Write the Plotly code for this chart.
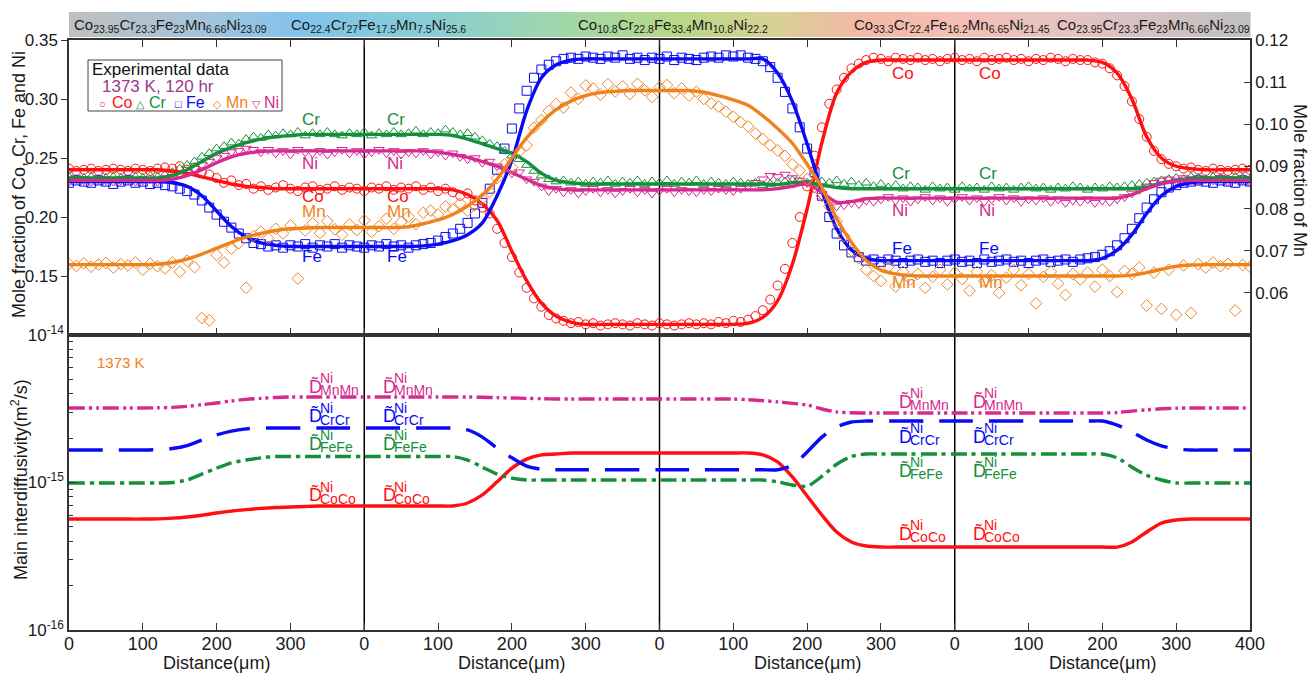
import plotly.graph_objects as go

# ---------------- DATA ----------------
D_SCAT = list(range(0, 1601, 10))      # distance of measured points (um, continuous across 4 couples)
D_FIT = list(range(0, 1601, 20))       # distance of fitted/calculated curves

X_TICKS = list(range(0, 1601, 100))
X_TICKTEXT = ['0', '100', '200', '300', '0', '100', '200', '300', '0', '100', '200', '300',
              '0', '100', '200', '300', '400']
SEG_BOUNDS = [400, 800, 1200]
SEG_CENTERS = [200, 600, 1000, 1400]

CO_PTS = [0.241, 0.239, 0.240, 0.241, 0.239, 0.240, 0.241, 0.240, 0.239, 0.241,
          0.240, 0.239, 0.241, 0.242, 0.241, 0.243, 0.240, 0.242, 0.238, 0.236,
          0.233, 0.229, 0.231, 0.227, 0.228, 0.224, 0.226, 0.223, 0.225, 0.227,
          0.224, 0.222, 0.225, 0.226, 0.223, 0.224, 0.226, 0.223, 0.225, 0.224,
          0.222, 0.225, 0.224, 0.226, 0.223, 0.225, 0.224, 0.226, 0.223, 0.225,
          0.222, 0.224, 0.221, 0.218, 0.220, 0.214, 0.208, 0.203, 0.190, 0.178,
          0.166, 0.153, 0.140, 0.131, 0.124, 0.117, 0.114, 0.112, 0.110, 0.111,
          0.109, 0.110, 0.108, 0.109, 0.110, 0.109, 0.108, 0.110, 0.109, 0.108,
          0.110, 0.109, 0.108, 0.109, 0.110, 0.109, 0.110, 0.109, 0.111, 0.110,
          0.112, 0.111, 0.113, 0.116, 0.121, 0.130, 0.142, 0.156, 0.178, 0.200,
          0.226, 0.252, 0.276, 0.296, 0.308, 0.318, 0.326, 0.330, 0.333, 0.335,
          0.334, 0.332, 0.335, 0.334, 0.333, 0.335, 0.333, 0.334, 0.332, 0.334,
          0.335, 0.333, 0.334, 0.332, 0.335, 0.333, 0.334, 0.335, 0.333, 0.334,
          0.332, 0.334, 0.333, 0.335, 0.334, 0.332, 0.334, 0.333, 0.333, 0.331,
          0.330, 0.326, 0.320, 0.311, 0.298, 0.283, 0.268, 0.256, 0.249, 0.245,
          0.243, 0.241, 0.242, 0.240, 0.239, 0.241, 0.240, 0.239, 0.240, 0.241,
          0.240]
CR_PTS = [0.234, 0.232, 0.233, 0.234, 0.232, 0.233, 0.234, 0.233, 0.232, 0.234,
          0.233, 0.235, 0.234, 0.236, 0.238, 0.241, 0.244, 0.247, 0.251, 0.254,
          0.258, 0.260, 0.263, 0.262, 0.266, 0.268, 0.267, 0.270, 0.269, 0.271,
          0.270, 0.272, 0.269, 0.271, 0.270, 0.272, 0.270, 0.269, 0.271, 0.270,
          0.272, 0.269, 0.271, 0.270, 0.272, 0.270, 0.271, 0.273, 0.270, 0.272,
          0.271, 0.274, 0.272, 0.270, 0.271, 0.268, 0.265, 0.262, 0.260, 0.256,
          0.252, 0.249, 0.244, 0.239, 0.235, 0.232, 0.230, 0.231, 0.229, 0.230,
          0.228, 0.230, 0.229, 0.231, 0.228, 0.230, 0.229, 0.231, 0.228, 0.230,
          0.229, 0.231, 0.228, 0.230, 0.229, 0.231, 0.228, 0.230, 0.229, 0.228,
          0.230, 0.229, 0.228, 0.229, 0.227, 0.228, 0.229, 0.230, 0.231, 0.230,
          0.229, 0.231, 0.230, 0.229, 0.231, 0.228, 0.230, 0.227, 0.229, 0.226,
          0.228, 0.225, 0.227, 0.224, 0.226, 0.225, 0.223, 0.226, 0.224, 0.225,
          0.223, 0.226, 0.224, 0.225, 0.223, 0.226, 0.224, 0.225, 0.223, 0.225,
          0.226, 0.224, 0.225, 0.223, 0.225, 0.224, 0.226, 0.225, 0.223, 0.225,
          0.224, 0.226, 0.225, 0.226, 0.227, 0.228, 0.229, 0.230, 0.231, 0.232,
          0.233, 0.232, 0.234, 0.233, 0.232, 0.234, 0.233, 0.232, 0.234, 0.233,
          0.232]
FE_PTS = [0.229, 0.231, 0.230, 0.229, 0.231, 0.230, 0.228, 0.230, 0.231, 0.229,
          0.230, 0.228, 0.229, 0.227, 0.226, 0.224, 0.222, 0.219, 0.214, 0.208,
          0.202, 0.196, 0.191, 0.186, 0.182, 0.178, 0.177, 0.175, 0.176, 0.174,
          0.176, 0.175, 0.177, 0.174, 0.176, 0.175, 0.177, 0.174, 0.176, 0.175,
          0.174, 0.176, 0.175, 0.177, 0.175, 0.176, 0.174, 0.176, 0.177, 0.178,
          0.180, 0.183, 0.186, 0.190, 0.195, 0.203, 0.212, 0.224, 0.240, 0.258,
          0.275, 0.292, 0.307, 0.318, 0.325, 0.329, 0.332, 0.334, 0.335, 0.334,
          0.336, 0.335, 0.334, 0.336, 0.335, 0.337, 0.334, 0.335, 0.333, 0.335,
          0.334, 0.336, 0.333, 0.335, 0.334, 0.333, 0.335, 0.336, 0.335, 0.337,
          0.336, 0.337, 0.335, 0.334, 0.332, 0.327, 0.318, 0.306, 0.292, 0.276,
          0.258, 0.238, 0.218, 0.200, 0.186, 0.176, 0.170, 0.166, 0.163, 0.164,
          0.162, 0.164, 0.163, 0.161, 0.163, 0.164, 0.162, 0.163, 0.161, 0.163,
          0.164, 0.162, 0.163, 0.161, 0.164, 0.162, 0.163, 0.164, 0.162, 0.163,
          0.161, 0.163, 0.164, 0.162, 0.163, 0.164, 0.162, 0.164, 0.165, 0.166,
          0.168, 0.171, 0.176, 0.182, 0.190, 0.199, 0.208, 0.215, 0.221, 0.225,
          0.227, 0.229, 0.230, 0.231, 0.230, 0.229, 0.231, 0.230, 0.229, 0.231,
          0.230]
NI_PTS = [0.230, 0.232, 0.231, 0.230, 0.232, 0.231, 0.230, 0.231, 0.232, 0.230,
          0.231, 0.232, 0.230, 0.233, 0.234, 0.236, 0.238, 0.241, 0.244, 0.247,
          0.250, 0.252, 0.255, 0.256, 0.258, 0.257, 0.255, 0.257, 0.254, 0.256,
          0.253, 0.257, 0.255, 0.254, 0.256, 0.253, 0.255, 0.257, 0.254, 0.256,
          0.253, 0.255, 0.257, 0.254, 0.256, 0.253, 0.255, 0.254, 0.256, 0.253,
          0.255, 0.252, 0.254, 0.251, 0.249, 0.250, 0.246, 0.247, 0.243, 0.241,
          0.237, 0.238, 0.232, 0.230, 0.226, 0.222, 0.224, 0.221, 0.223, 0.220,
          0.222, 0.224, 0.221, 0.223, 0.220, 0.222, 0.224, 0.221, 0.223, 0.220,
          0.222, 0.224, 0.221, 0.223, 0.222, 0.221, 0.223, 0.222, 0.224, 0.223,
          0.222, 0.224, 0.226, 0.229, 0.232, 0.235, 0.234, 0.236, 0.233, 0.231,
          0.229, 0.224, 0.218, 0.213, 0.209, 0.210, 0.212, 0.211, 0.214, 0.213,
          0.215, 0.217, 0.214, 0.216, 0.213, 0.215, 0.217, 0.214, 0.216, 0.213,
          0.215, 0.217, 0.214, 0.216, 0.213, 0.215, 0.217, 0.214, 0.216, 0.213,
          0.215, 0.214, 0.216, 0.213, 0.215, 0.212, 0.214, 0.213, 0.215, 0.212,
          0.214, 0.213, 0.215, 0.217, 0.220, 0.223, 0.226, 0.229, 0.231, 0.232,
          0.231, 0.233, 0.232, 0.230, 0.232, 0.231, 0.233, 0.230, 0.232, 0.231,
          0.230]
MN_PTS = [0.0668, 0.0664, 0.0670, 0.0662, 0.0667, 0.0671, 0.0660, 0.0668, 0.0665, 0.0672,
          0.0655, 0.0669, 0.0663, 0.0658, 0.0672, 0.0650, 0.0676, 0.0661, 0.0540, 0.0535,
          0.0690, 0.0672, 0.0705, 0.0718, 0.0612, 0.0735, 0.0745, 0.0729, 0.0752, 0.0741,
          0.0760, 0.0634, 0.0748, 0.0765, 0.0742, 0.0770, 0.0751, 0.0738, 0.0762, 0.0749,
          0.0772, 0.0745, 0.0758, 0.0776, 0.0752, 0.0768, 0.0781, 0.0763, 0.0790, 0.0795,
          0.0786, 0.0805, 0.0798, 0.0812, 0.0795, 0.0808, 0.0824, 0.0840, 0.0872, 0.0905,
          0.0898, 0.0936, 0.0950, 0.0992, 0.1010, 0.1032, 0.1048, 0.1040, 0.1075, 0.1060,
          0.1092, 0.1085, 0.1070, 0.1095, 0.1078, 0.1090, 0.1072, 0.1096, 0.1081, 0.1065,
          0.1088, 0.1093, 0.1074, 0.1085, 0.1068, 0.1077, 0.1060, 0.1050, 0.1042, 0.1030,
          0.1018, 0.1005, 0.0995, 0.0978, 0.0965, 0.0950, 0.0938, 0.0925, 0.0905, 0.0890,
          0.0870, 0.0858, 0.0830, 0.0805, 0.0770, 0.0735, 0.0700, 0.0682, 0.0655, 0.0640,
          0.0628, 0.0662, 0.0615, 0.0650, 0.0632, 0.0645, 0.0612, 0.0638, 0.0655, 0.0620,
          0.0648, 0.0633, 0.0605, 0.0650, 0.0628, 0.0642, 0.0600, 0.0636, 0.0655, 0.0618,
          0.0645, 0.0575, 0.0638, 0.0650, 0.0622, 0.0595, 0.0645, 0.0632, 0.0648, 0.0615,
          0.0655, 0.0640, 0.0602, 0.0652, 0.0645, 0.0660, 0.0570, 0.0648, 0.0562, 0.0655,
          0.0548, 0.0665, 0.0552, 0.0668, 0.0660, 0.0672, 0.0663, 0.0669, 0.0558, 0.0666,
          0.0662]

CO_FIT = [0.240, 0.240, 0.240, 0.240, 0.240, 0.240, 0.240, 0.239, 0.237, 0.234,
          0.231, 0.228, 0.226, 0.225, 0.224, 0.224, 0.224, 0.224, 0.224, 0.224,
          0.224, 0.224, 0.224, 0.224, 0.224, 0.224, 0.223, 0.219, 0.211, 0.197,
          0.171, 0.146, 0.127, 0.116, 0.111, 0.109, 0.109, 0.109, 0.109, 0.109,
          0.109, 0.109, 0.109, 0.109, 0.109, 0.109, 0.110, 0.115, 0.129, 0.160,
          0.207, 0.263, 0.305, 0.323, 0.331, 0.333, 0.333, 0.333, 0.333, 0.333,
          0.333, 0.333, 0.333, 0.333, 0.333, 0.333, 0.333, 0.333, 0.333, 0.333,
          0.331, 0.322, 0.300, 0.268, 0.250, 0.243, 0.241, 0.240, 0.240, 0.240,
          0.240]
CR_FIT = [0.233, 0.233, 0.233, 0.233, 0.233, 0.233, 0.233, 0.235, 0.240, 0.247,
          0.254, 0.259, 0.263, 0.266, 0.268, 0.269, 0.270, 0.270, 0.270, 0.270,
          0.270, 0.270, 0.270, 0.270, 0.270, 0.270, 0.269, 0.266, 0.262, 0.258,
          0.254, 0.247, 0.237, 0.231, 0.229, 0.228, 0.228, 0.228, 0.228, 0.228,
          0.228, 0.228, 0.228, 0.228, 0.228, 0.228, 0.228, 0.228, 0.2275, 0.229,
          0.229, 0.227, 0.225, 0.224, 0.224, 0.224, 0.224, 0.224, 0.224, 0.224,
          0.224, 0.224, 0.224, 0.224, 0.224, 0.224, 0.224, 0.224, 0.224, 0.224,
          0.224, 0.224, 0.224, 0.225, 0.229, 0.231, 0.2325, 0.233, 0.233, 0.233,
          0.233]
FE_FIT = [0.230, 0.230, 0.230, 0.230, 0.230, 0.230, 0.230, 0.229, 0.226, 0.218,
          0.205, 0.192, 0.183, 0.178, 0.176, 0.175, 0.175, 0.175, 0.175, 0.175,
          0.175, 0.175, 0.175, 0.175, 0.1755, 0.177, 0.180, 0.185, 0.195, 0.218,
          0.248, 0.290, 0.318, 0.329, 0.333, 0.334, 0.334, 0.334, 0.334, 0.334,
          0.334, 0.334, 0.334, 0.334, 0.334, 0.334, 0.334, 0.334, 0.322, 0.298,
          0.262, 0.222, 0.190, 0.172, 0.165, 0.163, 0.163, 0.163, 0.163, 0.163,
          0.163, 0.163, 0.163, 0.163, 0.163, 0.163, 0.163, 0.163, 0.163, 0.163,
          0.165, 0.172, 0.185, 0.203, 0.218, 0.226, 0.229, 0.230, 0.230, 0.230,
          0.230]
NI_FIT = [0.231, 0.231, 0.231, 0.231, 0.231, 0.231, 0.231, 0.232, 0.235, 0.240,
          0.246, 0.251, 0.254, 0.2555, 0.256, 0.256, 0.256, 0.256, 0.256, 0.256,
          0.256, 0.256, 0.256, 0.256, 0.256, 0.255, 0.253, 0.2505, 0.247, 0.243,
          0.2375, 0.232, 0.2265, 0.224, 0.223, 0.223, 0.223, 0.223, 0.223, 0.223,
          0.223, 0.223, 0.223, 0.223, 0.223, 0.223, 0.223, 0.223, 0.224, 0.226,
          0.228, 0.221, 0.2125, 0.213, 0.2155, 0.216, 0.216, 0.216, 0.216, 0.216,
          0.216, 0.216, 0.216, 0.216, 0.216, 0.216, 0.216, 0.216, 0.216, 0.216,
          0.216, 0.216, 0.219, 0.224, 0.228, 0.2305, 0.231, 0.231, 0.231, 0.231,
          0.231]
MN_FIT = [0.0667, 0.0667, 0.0667, 0.0667, 0.0667, 0.0667, 0.0668, 0.0672, 0.0680, 0.0692,
          0.0706, 0.0720, 0.0732, 0.0741, 0.0748, 0.0752, 0.0754, 0.0755, 0.0755, 0.0755,
          0.0755, 0.0755, 0.0755, 0.0757, 0.0764, 0.0773, 0.0786, 0.0806, 0.0832, 0.0870,
          0.0920, 0.0968, 0.1005, 0.1035, 0.1055, 0.1068, 0.1075, 0.1078, 0.1080, 0.1080,
          0.1080, 0.1080, 0.1080, 0.1076, 0.1068, 0.1058, 0.1045, 0.1020, 0.0990, 0.0955,
          0.0905, 0.0850, 0.0776, 0.0720, 0.0677, 0.0654, 0.0645, 0.0641, 0.0640, 0.0640,
          0.0640, 0.0640, 0.0640, 0.0640, 0.0640, 0.0640, 0.0640, 0.0640, 0.0640, 0.0640,
          0.0640, 0.0640, 0.0642, 0.0648, 0.0656, 0.0663, 0.0666, 0.0667, 0.0667, 0.0667,
          0.0667]

# main interdiffusivities, in units of 1e-15 m^2/s
D_MNMN = [3.20, 3.20, 3.20, 3.20, 3.20, 3.20, 3.21, 3.23, 3.28, 3.37,
          3.46, 3.57, 3.66, 3.72, 3.77, 3.80, 3.80, 3.80, 3.80, 3.80,
          3.80, 3.80, 3.80, 3.80, 3.80, 3.80, 3.80, 3.80, 3.78, 3.76,
          3.74, 3.72, 3.70, 3.68, 3.68, 3.68, 3.68, 3.68, 3.68, 3.68,
          3.68, 3.68, 3.68, 3.68, 3.68, 3.68, 3.64, 3.59, 3.52, 3.44,
          3.35, 3.15, 3.01, 2.97, 2.96, 2.96, 2.96, 2.96, 2.96, 2.96,
          2.96, 2.96, 2.96, 2.96, 2.96, 2.96, 2.96, 2.96, 2.96, 2.96,
          2.96, 2.98, 3.05, 3.11, 3.16, 3.19, 3.20, 3.20, 3.20, 3.20,
          3.20]
D_CRCR = [1.66, 1.66, 1.66, 1.66, 1.66, 1.66, 1.67, 1.70, 1.78, 1.94,
          2.10, 2.23, 2.31, 2.34, 2.34, 2.34, 2.34, 2.34, 2.34, 2.34,
          2.34, 2.34, 2.34, 2.34, 2.34, 2.34, 2.34, 2.27, 2.03, 1.71,
          1.47, 1.29, 1.23, 1.22, 1.22, 1.22, 1.22, 1.22, 1.22, 1.22,
          1.22, 1.22, 1.22, 1.22, 1.22, 1.22, 1.22, 1.22, 1.22, 1.31,
          1.61, 2.03, 2.38, 2.57, 2.61, 2.61, 2.61, 2.61, 2.61, 2.61,
          2.61, 2.61, 2.61, 2.61, 2.61, 2.61, 2.61, 2.61, 2.61, 2.61,
          2.61, 2.45, 2.20, 1.94, 1.77, 1.69, 1.66, 1.66, 1.66, 1.66,
          1.66]
D_FEFE = [0.992, 0.992, 0.992, 0.992, 0.992, 0.992, 0.992, 1.00, 1.04, 1.14,
          1.25, 1.36, 1.42, 1.47, 1.50, 1.50, 1.50, 1.50, 1.50, 1.50,
          1.50, 1.50, 1.50, 1.50, 1.50, 1.50, 1.50, 1.42, 1.27, 1.14,
          1.07, 1.04, 1.04, 1.04, 1.04, 1.04, 1.04, 1.04, 1.04, 1.04,
          1.04, 1.04, 1.04, 1.04, 1.04, 1.04, 1.04, 1.04, 1.01, 0.962,
          0.945, 1.10, 1.33, 1.50, 1.56, 1.56, 1.56, 1.56, 1.56, 1.56,
          1.56, 1.56, 1.56, 1.56, 1.56, 1.56, 1.56, 1.56, 1.56, 1.56,
          1.56, 1.47, 1.27, 1.12, 1.04, 0.992, 0.992, 0.992, 0.992, 0.992,
          0.992]
D_COCO = [0.565, 0.565, 0.565, 0.565, 0.565, 0.565, 0.567, 0.573, 0.584, 0.600,
          0.621, 0.640, 0.655, 0.668, 0.677, 0.682, 0.688, 0.693, 0.693, 0.693,
          0.693, 0.693, 0.693, 0.693, 0.693, 0.693, 0.693, 0.726, 0.823, 1.01,
          1.25, 1.44, 1.54, 1.56, 1.585, 1.585, 1.585, 1.585, 1.585, 1.585,
          1.585, 1.585, 1.585, 1.585, 1.585, 1.585, 1.585, 1.54, 1.38, 1.09,
          0.810, 0.602, 0.462, 0.395, 0.371, 0.365, 0.365, 0.365, 0.365, 0.365,
          0.365, 0.365, 0.365, 0.365, 0.365, 0.365, 0.365, 0.365, 0.365, 0.365,
          0.365, 0.365, 0.395, 0.462, 0.531, 0.557, 0.565, 0.565, 0.565, 0.565,
          0.565]

HEADER_TEXTS = [
    "Co<sub>23.95</sub>Cr<sub>23.3</sub>Fe<sub>23</sub>Mn<sub>6.66</sub>Ni<sub>23.09</sub>",
    "Co<sub>22.4</sub>Cr<sub>27</sub>Fe<sub>17.5</sub>Mn<sub>7.5</sub>Ni<sub>25.6</sub>",
    "Co<sub>10.8</sub>Cr<sub>22.8</sub>Fe<sub>33.4</sub>Mn<sub>10.8</sub>Ni<sub>22.2</sub>",
    "Co<sub>33.3</sub>Cr<sub>22.4</sub>Fe<sub>16.2</sub>Mn<sub>6.65</sub>Ni<sub>21.45</sub>",
    "Co<sub>23.95</sub>Cr<sub>23.3</sub>Fe<sub>23</sub>Mn<sub>6.66</sub>Ni<sub>23.09</sub>",
]

# ---------------- STYLE ----------------
C_CO, C_CR, C_FE, C_MN, C_NI = '#ff1010', '#14903a', '#0a0af5', '#f0821e', '#d62a8e'
AX = '#333333'
FONT = 'Arial, Liberation Sans, sans-serif'

W, H = 1312, 676
L, R, T, B = 69, 1250, 40, 630


def px(x):
    return (x - L) / (R - L)


def py(y):
    return (B - y) / (B - T)


fig = go.Figure()

# measured points
for pts, col, sym, ax in [(CO_PTS, C_CO, 'circle-open', 'y'), (CR_PTS, C_CR, 'triangle-up-open', 'y'),
                          (FE_PTS, C_FE, 'square-open', 'y'), (NI_PTS, C_NI, 'triangle-down-open', 'y'),
                          (MN_PTS, C_MN, 'diamond-open', 'y2')]:
    fig.add_trace(go.Scatter(x=D_SCAT, y=pts, mode='markers', xaxis='x', yaxis=ax,
                             marker=dict(symbol=sym, size=9, color=col, line=dict(width=1, color=col)),
                             hoverinfo='skip'))
# fits
for fit, col, ax in [(CO_FIT, C_CO, 'y'), (CR_FIT, C_CR, 'y'), (FE_FIT, C_FE, 'y'), (NI_FIT, C_NI, 'y'),
                     (MN_FIT, C_MN, 'y2')]:
    fig.add_trace(go.Scatter(x=D_FIT, y=fit, mode='lines', xaxis='x', yaxis=ax,
                             line=dict(color=col, width=3.4, shape='spline', smoothing=0.8)))

# interdiffusivities
for vals, col, dash in [(D_COCO, C_CO, 'solid'), (D_FEFE, C_CR, '16px,5px,4px,5px'),
                        (D_CRCR, C_FE, '34px,16px'), (D_MNMN, C_NI, '16px,4px,3px,4px,3px,4px')]:
    fig.add_trace(go.Scatter(x=D_FIT, y=[v * 1e-15 for v in vals], mode='lines', xaxis='x2', yaxis='y3',
                             line=dict(color=col, width=3.4, dash=dash, shape='spline', smoothing=0.8)))

shapes = []
# segment boundaries
for xb in SEG_BOUNDS:
    shapes.append(dict(type='line', xref='x', yref='paper', x0=xb, x1=xb, y0=0, y1=1,
                       line=dict(color='black', width=1.5), layer='below'))

# header gradient bar
stops = [(69, (192, 192, 192)), (200, (165, 195, 218)), (300, (128, 195, 236)), (430, (135, 205, 212)),
         (560, (160, 215, 170)), (680, (185, 215, 135)), (770, (215, 210, 150)), (860, (242, 185, 165)),
         (950, (246, 190, 180)), (1080, (226, 195, 195)), (1250, (192, 192, 192))]


def grad(x):
    for (x0, c0), (x1, c1) in zip(stops[:-1], stops[1:]):
        if x0 <= x <= x1:
            t = (x - x0) / (x1 - x0)
            return 'rgb(%d,%d,%d)' % tuple(round(a + (b - a) * t) for a, b in zip(c0, c1))
    return 'rgb(192,192,192)'


N = 236
for i in range(N):
    xa = L + (R - L) * i / N
    xb2 = L + (R - L) * (i + 1) / N
    shapes.append(dict(type='rect', xref='paper', yref='paper', x0=px(xa), x1=px(xb2) + 0.0005,
                       y0=py(37), y1=py(12), line=dict(width=0), fillcolor=grad((xa + xb2) / 2), layer='above'))

# legend box
shapes.append(dict(type='rect', xref='paper', yref='paper', x0=px(88), x1=px(282), y0=py(111), y1=py(60),
                   line=dict(color='#444', width=1), fillcolor='white', layer='above'))

ann = []
hdr_centers = [170, 378, 673, 952, 1153]
for t, xc in zip(HEADER_TEXTS, hdr_centers):
    ann.append(dict(x=px(xc), y=py(25), text=t, font=dict(size=15, color='#1a1a1a')))

# legend texts
ann.append(dict(x=px(90), y=py(69), text='Experimental data', xanchor='left', font=dict(size=17, color='#111')))
ann.append(dict(x=px(100), y=py(87), text='1373 K, 120 hr', xanchor='left', font=dict(size=17, color='#9a3a8c')))
for sx, tx, sym, name, col in [(102, 110, '○', 'Co', C_CO), (140, 147, '△', 'Cr', C_CR), (178, 184, '□', 'Fe', C_FE),
                               (217, 224, '◇', 'Mn', C_MN), (256, 262, '▽', 'Ni', C_NI)]:
    ann.append(dict(x=px(sx), y=py(104), text=sym, font=dict(size=11, color=col)))
    ann.append(dict(x=px(tx), y=py(103), text=name, xanchor='left', font=dict(size=16, color=col)))

# element labels, top panel
for xs, items in [((300, 385), [('Cr', 119, C_CR), ('Ni', 163, C_NI), ('Co', 196, C_CO), ('Mn', 212, C_MN), ('Fe', 256, C_FE)]),
                  ((890, 977), [('Co', 73, C_CO), ('Cr', 173, C_CR), ('Ni', 210, C_NI), ('Fe', 248, C_FE), ('Mn', 282, C_MN)])]:
    for x0 in xs:
        for name, yc, col in items:
            ann.append(dict(x=px(x0), y=py(yc), text=name, xanchor='left', font=dict(size=17, color=col)))

# diffusivity labels, bottom panel
for xs, items in [((308, 382), [('MnMn', 388, C_NI), ('CrCr', 418, C_FE), ('FeFe', 445, C_CR), ('CoCo', 497, C_CO)]),
                  ((898, 972), [('MnMn', 403, C_NI), ('CrCr', 438, C_FE), ('FeFe', 472, C_CR), ('CoCo', 535, C_CO)])]:
    for x0 in xs:
        for sub, yc, col in items:
            ann.append(dict(x=px(x0 - 1), y=py(yc - 2), text='D\u0303', xanchor='left', font=dict(size=18, color=col)))
            ann.append(dict(x=px(x0 + 10), y=py(yc - 10), text='Ni', xanchor='left', font=dict(size=14, color=col)))
            ann.append(dict(x=px(x0 + 10), y=py(yc + 2), text=sub, xanchor='left', font=dict(size=14, color=col)))

ann.append(dict(x=px(95), y=py(363), text='1373 K', xanchor='left', font=dict(size=15, color='#f08020')))

# axis titles
ann.append(dict(x=px(19), y=py(185), text='Mole fraction of Co, Cr, Fe and Ni', textangle=-90, font=dict(size=18)))
ann.append(dict(x=px(1300), y=py(180), text='Mole fraction of Mn', textangle=90, font=dict(size=18)))
ann.append(dict(x=px(19), y=py(480), text='Main interdiffusivity(m<sup>2</sup>/s)', textangle=-90, font=dict(size=18)))
for xc in SEG_CENTERS:
    ann.append(dict(x=xc, xref='x2', y=py(663), text='Distance(μm)', font=dict(size=18)))

for a in ann:
    a.setdefault('xref', 'paper')
    a.setdefault('yref', 'paper')
    a['showarrow'] = False
    a.setdefault('xanchor', 'center')
    a.setdefault('yanchor', 'middle')
    a['font'].setdefault('family', FONT)
    a['font'].setdefault('color', '#1a1a1a')

axis_common = dict(showline=True, linecolor=AX, linewidth=1.5, showgrid=False, zeroline=False,
                   tickcolor=AX, tickfont=dict(family=FONT, size=17, color='#1a1a1a'))

minor_vals = [k * 10.0 ** e for e in (-16, -15) for k in range(2, 10)]

fig.update_layout(
    width=W, height=H,
    margin=dict(l=L, r=W - R, t=T, b=H - B),
    paper_bgcolor='white', plot_bgcolor='white',
    showlegend=False,
    font=dict(family=FONT, size=16, color='#1a1a1a'),
    xaxis=dict(domain=[0, 1], anchor='y', range=[0, 1600], tickvals=X_TICKS, ticktext=X_TICKTEXT,
               showticklabels=False, ticks='inside', ticklen=7, mirror='ticks', **axis_common),
    yaxis=dict(domain=[0.5, 1], anchor='x', range=[0.10, 0.35], tickvals=[0.15, 0.20, 0.25, 0.30, 0.35],
               ticktext=['0.15', '0.20', '0.25', '0.30', '0.35'], ticks='outside', ticklen=6, **axis_common),
    yaxis2=dict(overlaying='y', side='right', anchor='x', range=[0.05, 0.12],
                tickvals=[0.06, 0.07, 0.08, 0.09, 0.10, 0.11, 0.12],
                ticktext=['0.06', '0.07', '0.08', '0.09', '0.10', '0.11', '0.12'],
                ticks='inside', ticklen=6, **axis_common),
    xaxis2=dict(domain=[0, 1], anchor='y3', range=[0, 1600], tickvals=X_TICKS, ticktext=X_TICKTEXT,
                ticks='inside', ticklen=7, mirror=True, ticklabelstandoff=-3,
                **{**axis_common, 'tickfont': dict(family=FONT, size=18, color='#1a1a1a')}),
    yaxis3=dict(domain=[0, 0.5], anchor='x2', type='log', range=[-16, -14],
                tickvals=[1e-16, 1e-15, 1e-14], ticktext=['10<sup>-16</sup>', '10<sup>-15</sup>', '10<sup>-14</sup>'],
                ticks='inside', ticklen=7, mirror=True,
                minor=dict(tickvals=minor_vals, ticks='inside', ticklen=4, tickcolor=AX), **axis_common),
    shapes=shapes,
    annotations=ann,
)

fig.write_html("out.html", post_script="document.body.style.margin='0px';",
               config={'displayModeBar': False})
